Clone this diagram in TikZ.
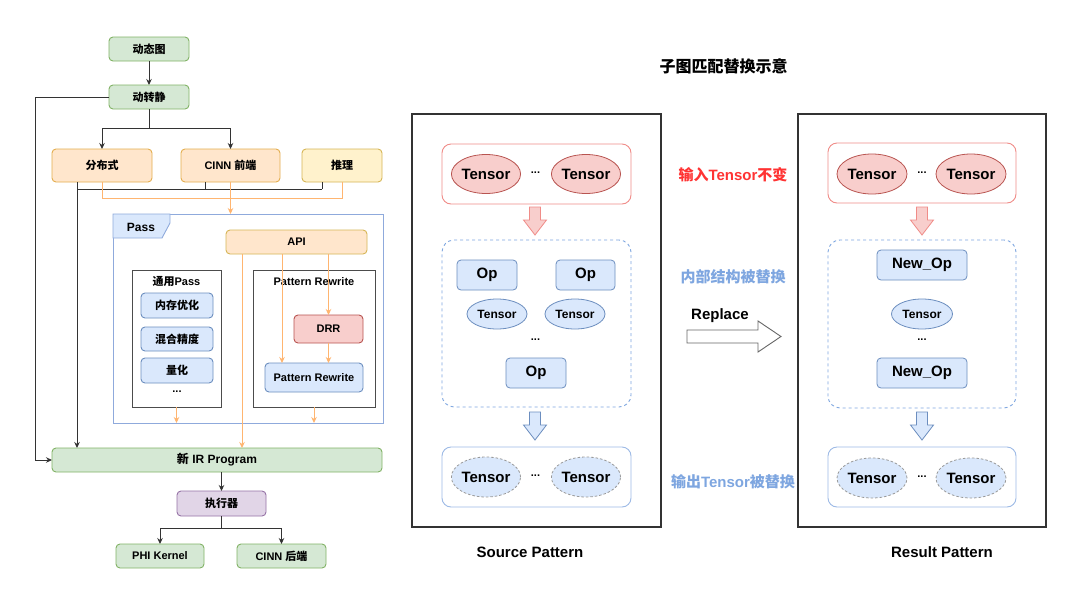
\documentclass[tikz,border=0pt]{standalone}
\usepackage{fontspec}
\setmainfont{Liberation Sans}
\newfontfamily\cjk{Noto Sans CJK SC}
\usetikzlibrary{shapes.geometric,arrows.meta,calc}
\newcommand\zh[1]{{\cjk #1}}
\definecolor{gfill}{HTML}{D5E8D4}
\definecolor{gdraw}{HTML}{82B366}
\definecolor{ofill}{HTML}{FFE6CC}
\definecolor{odraw}{HTML}{E3AE4F}
\definecolor{yfill}{HTML}{FFF2CC}
\definecolor{ydraw}{HTML}{D6B656}
\definecolor{bfill}{HTML}{DAE8FC}
\definecolor{bdraw}{HTML}{6C8EBF}
\definecolor{rfill}{HTML}{F8CECC}
\definecolor{rdraw}{HTML}{B85450}
\definecolor{pfill}{HTML}{E1D5E7}
\definecolor{pdraw}{HTML}{9673A6}
\definecolor{orln}{HTML}{FFB570}
\definecolor{passc}{HTML}{8FAADC}
\definecolor{redg}{HTML}{F08C88}
\definecolor{blueg}{HTML}{9DBAE6}
\definecolor{redtxt}{HTML}{FF3333}
\definecolor{bluetxt}{HTML}{7EA6E0}
\definecolor{dashell}{HTML}{999999}
\tikzset{
  f11/.style={font=\fontsize{11}{13}\selectfont\bfseries},
  f12/.style={font=\fontsize{12}{14}\selectfont\bfseries},
  f14/.style={font=\fontsize{15}{17}\selectfont\bfseries},
  f16/.style={font=\fontsize{16}{18}\selectfont\bfseries},
  basebox/.style={rectangle, rounded corners=4pt, line width=0.9pt, f11},
  gbox/.style={basebox, draw=gdraw, fill=gfill},
  obox/.style={basebox, draw=odraw, fill=ofill},
  ybox/.style={basebox, draw=ydraw, fill=yfill},
  apibox/.style={basebox, draw=ydraw, fill=ofill},
  bbox/.style={basebox, draw=bdraw, fill=bfill},
  rbox/.style={basebox, draw=rdraw, fill=rfill},
  pbox/.style={basebox, draw=pdraw, fill=pfill},
  passframe/.style={rectangle, draw=passc, line width=0.9pt},
  grayframe/.style={rectangle, draw=black!70, line width=0.9pt},
  outerframe/.style={rectangle, draw=black!80, line width=1.1pt},
  redgrp/.style={rectangle, rounded corners=9pt, draw=redg, fill=white, line width=0.9pt},
  dashgrp/.style={rectangle, rounded corners=12pt, draw=bluetxt, dash pattern=on 3pt off 3pt, line width=0.9pt},
  bluegrp/.style={rectangle, rounded corners=9pt, draw=blueg, fill=white, line width=0.9pt},
  tensR/.style={ellipse, draw=rdraw, fill=rfill, line width=0.8pt, minimum width=68, minimum height=39, f14},
  tensB/.style={ellipse, draw=bdraw, fill=bfill, line width=0.8pt, minimum width=60, minimum height=30, f12},
  tensD/.style={ellipse, draw=dashell, fill=bfill, dash pattern=on 2.5pt off 2pt, line width=0.8pt, minimum width=68, minimum height=40, f14},
  opbox/.style={rectangle, rounded corners=4pt, draw=bdraw, fill=bfill, line width=0.8pt, minimum height=30, f14},
  dk/.style={draw=black!80, line width=0.9pt},
  dka/.style={dk, -{Stealth[length=6pt,width=5.5pt]}},
  orl/.style={draw=orln, line width=0.9pt},
  ora/.style={orl, -{Stealth[length=6pt,width=5.5pt]}},
  downarr/.pic={\path[pic actions] (-5.5,0) -- (5.5,0) -- (5.5,13) -- (11.5,13) -- (0,28) -- (-11.5,13) -- (-5.5,13) -- cycle;},
}
\begin{document}
\begin{tikzpicture}[x=1pt,y=-1pt, every node/.style={inner sep=0pt, outer sep=0pt}]
\useasboundingbox (0,0) rectangle (1080,595);
\fill[white] (0,0) rectangle (1080,595);

% ---------- left flow ----------
\node[gbox, minimum width=80, minimum height=24] (dtt) at (149,49) {\zh{动态图}};
\node[gbox, minimum width=80, minimum height=24] (dzj) at (149,97) {\zh{动转静}};
\node[obox, minimum width=100, minimum height=33] (fbs) at (102,165.5) {\zh{分布式}};
\node[obox, minimum width=99, minimum height=33] (cinnf) at (230.5,165.5) {CINN \zh{前端}};
\node[ybox, minimum width=80, minimum height=33] (tl) at (342,165.5) {\zh{推理}};

\node[passframe, minimum width=270, minimum height=209] (pass) at (248,318.5) {};
\draw[draw=passc, fill=bfill, line width=0.9pt] (pass.north west) -- ++(57,0) -- ++(0,9) -- ++(-8,15) -- ++(-49,0) -- cycle;
\node[f12] (passlbl) at (141,227) {Pass};
\node[apibox, minimum width=141, minimum height=24] (api) at (296.5,242) {API};

\node[grayframe, minimum width=89, minimum height=137] (ty) at (176.5,338.5) {};
\node[f11] (tylbl) at (176.5,281.5) {\zh{通用}Pass};
\node[bbox, minimum width=72, minimum height=25] (ncyh) at (177,305.5) {\zh{内存优化}};
\node[bbox, minimum width=72, minimum height=24] (hhjd) at (177,339) {\zh{混合精度}};
\node[bbox, minimum width=72, minimum height=25] (lh) at (177,370.5) {\zh{量化}};
\node[f11] (tydots) at (177,392) {...};

\node[grayframe, minimum width=122, minimum height=137] (prbox) at (314,338.5) {};
\node[f11] (prlbl) at (314,281.5) {Pattern Rewrite};
\node[rbox, minimum width=69, minimum height=28] (drr) at (328.5,329) {DRR};
\node[bbox, minimum width=98, minimum height=29] (prin) at (314,377.5) {Pattern Rewrite};

\node[gbox, minimum width=330, minimum height=24, f12] (newir) at (217,460) {\zh{新} IR Program};
\node[pbox, minimum width=89, minimum height=25] (zxq) at (221.5,503.5) {\zh{执行器}};
\node[gbox, minimum width=88, minimum height=24] (phi) at (160,556) {PHI Kernel};
\node[gbox, minimum width=89, minimum height=24] (cinnb) at (281.5,556) {CINN \zh{后端}};

% dark connectors
\draw[dka] (dtt) -- (dzj);
\draw[dk] (dzj.south) -- ++(0,19) coordinate (split1);
\draw[dka] (split1) -| (fbs.north);
\draw[dka] (split1) -| (cinnf.north);
\coordinate (Lcorner) at (35,97);
\draw[dka] (dzj.west) -- (Lcorner) |- (newir.west);
\coordinate (dy) at (0,189);
\draw[dka] ([xshift=-25]fbs.south) -- ([xshift=-25]fbs.south |- newir.north);
\draw[dk] ([xshift=-25]fbs.south |- dy) -- ([xshift=-20]tl.south |- dy);
\draw[dk] ([xshift=-25.5]cinnf.south) -- ([xshift=-25.5]cinnf.south |- dy);
\draw[dk] ([xshift=-20]tl.south) -- ([xshift=-20]tl.south |- dy);
\draw[dka] (zxq.north |- newir.south) -- (zxq.north);
\draw[dk] (zxq.south) -- ++(0,12) coordinate (split2);
\draw[dka] (split2) -| (phi.north);
\draw[dka] (split2) -| (cinnb.north);

% orange connectors
\coordinate (oy) at (0,198);
\draw[orl] (fbs.south) |- (tl.south |- oy) -- (tl.south);
\draw[ora] (cinnf.south) -- (cinnf.south |- pass.north);
\draw[ora] ([xshift=-54.5]api.south) -- ([xshift=-54.5]api.south |- newir.north);
\draw[ora] ([xshift=-14.5]api.south) -- ([xshift=-14.5]api.south |- prin.north);
\draw[ora] (drr.north |- api.south) -- (drr.north);
\draw[ora] (drr.south) -- (drr.south |- prin.north);
\draw[ora] (ty.south) -- (ty.south |- pass.south);
\draw[ora] (prbox.south) -- (prbox.south |- pass.south);

% ---------- right: source / result ----------
\node[f16] (title) at (723.5,66) {\zh{子图匹配替换示意}};

\node[outerframe, minimum width=249, minimum height=413] (src) at (536.5,320.5) {};
\node[redgrp, minimum width=189, minimum height=60] (sin) at (536.5,174) {};
\node[tensR] (sinA) at (486,174) {Tensor};
\node[tensR] (sinB) at (586,174) {Tensor};
\node[f11] (sindots) at (535.5,172.5) {...};
\node[dashgrp, minimum width=189, minimum height=167] (smid) at (536.5,323.5) {};
\node[opbox, minimum width=60] (sop1) at (487,275) {Op};
\node[opbox, minimum width=59] (sop2) at (585.5,275) {Op};
\node[tensB] (stA) at (497,314) {Tensor};
\node[tensB] (stB) at (575,314) {Tensor};
\node[f11] (smdots) at (535.5,340) {...};
\node[opbox, minimum width=60] (sop3) at (536,373) {Op};
\node[bluegrp, minimum width=189, minimum height=60] (sout) at (536.5,477) {};
\node[tensD] (soA) at (486,477) {Tensor};
\node[tensD] (soB) at (586,477) {Tensor};
\node[f11] (sodots) at (535.5,476) {...};
\pic[draw=redg, fill=rfill, line width=0.8pt] at ($(sin.south)+(-1.5,3)$) {downarr};
\pic[draw=bdraw, fill=bfill, line width=0.8pt] at ($(smid.south)+(-1.5,5)$) {downarr};
\node[f14] (srclbl) at (530,552) {Source Pattern};

\node[f14, text=redtxt] (lbl1) at (733,175) {\zh{输入}Tensor\zh{不变}};
\node[f14, text=bluetxt] (lbl2) at (733,277) {\zh{内部结构被替换}};
\node[f14] (rep) at (720,316) {Replace};
\draw[draw=black!60, fill=white, line width=0.9pt] (687,330) -- (758,330) -- (758,321) -- (781,336.5) -- (758,352) -- (758,343) -- (687,343) -- cycle;
\node[f14, text=bluetxt] (lbl3) at (733,482) {\zh{输出}Tensor\zh{被替换}};

\node[outerframe, minimum width=248, minimum height=413] (res) at (922,320.5) {};
\node[redgrp, minimum width=188, minimum height=60] (rin) at (922,173) {};
\node[tensR, minimum width=70, minimum height=40] (rinA) at (872,174) {Tensor};
\node[tensR, minimum width=70, minimum height=40] (rinB) at (971,174) {Tensor};
\node[f11] (rindots) at (922,172.5) {...};
\node[dashgrp, minimum width=188, minimum height=168] (rmid) at (922,324) {};
\node[opbox, minimum width=90] (rop1) at (922,265) {New\_Op};
\node[tensB, minimum width=61] (rt) at (922,314) {Tensor};
\node[f11] (rmdots) at (922,340) {...};
\node[opbox, minimum width=90] (rop2) at (922,373) {New\_Op};
\node[bluegrp, minimum width=188, minimum height=60] (rout) at (922,477) {};
\node[tensD, minimum width=70] (roA) at (872,478) {Tensor};
\node[tensD, minimum width=70] (roB) at (971,478) {Tensor};
\node[f11] (rodots) at (922,477) {...};
\pic[draw=redg, fill=rfill, line width=0.8pt] at ($(rin.south)+(0,4)$) {downarr};
\pic[draw=bdraw, fill=bfill, line width=0.8pt] at ($(rmid.south)+(0,4)$) {downarr};
\node[f14] (reslbl) at (942,552) {Result Pattern};
\end{tikzpicture}
\end{document}
